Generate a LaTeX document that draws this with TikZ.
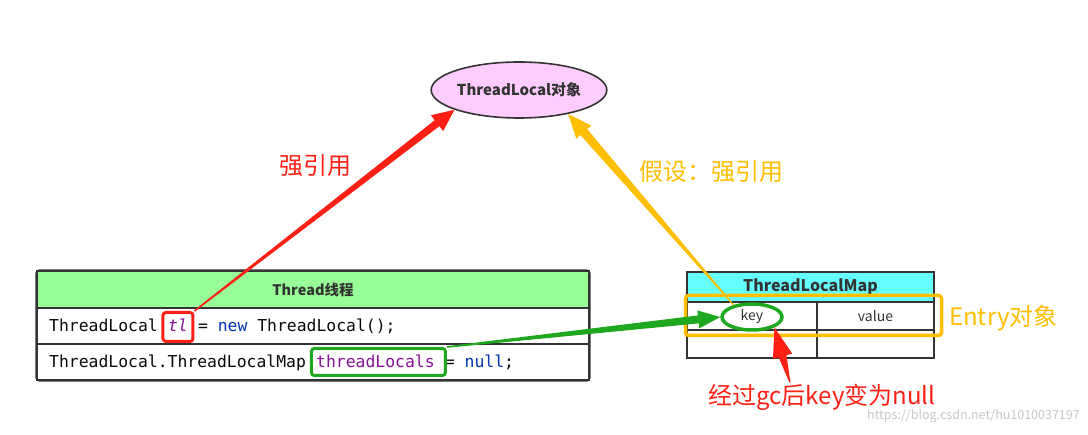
\documentclass[tikz,border=0pt]{standalone}
\usepackage{fontspec}
\setmainfont{Noto Sans CJK SC}
\setmonofont{DejaVu Sans Mono}
\usetikzlibrary{calc,shapes.geometric}
\definecolor{hgreen}{HTML}{99FF99}
\definecolor{hcyan}{HTML}{66FFFF}
\definecolor{pinkfill}{HTML}{FFCCFF}
\definecolor{dark}{HTML}{333333}
\definecolor{myred}{HTML}{FF2015}
\definecolor{myorange}{HTML}{FFBE00}
\definecolor{mygreen}{HTML}{1FA81F}
\definecolor{cpurple}{HTML}{871094}
\definecolor{cblue}{HTML}{0033B3}
\definecolor{ctext}{HTML}{080808}
\newcommand\taparrow[7]{% color, tail, tip, tail hw, shaft hw, head hw, head length
  \coordinate (hb) at ($(#3)!#7!(#2)$);
  \fill[#1] ($(#2)!#4!90:(#3)$) -- ($(hb)!#5!90:(#3)$) -- ($(hb)!#6!90:(#3)$) -- (#3)
    -- ($(hb)!#6!-90:(#3)$) -- ($(hb)!#5!-90:(#3)$) -- ($(#2)!#4!-90:(#3)$) -- cycle;
}
\tikzset{
  cell/.style={draw=dark, line width=1.6pt, inner sep=0pt, minimum height=#1},
  hdr/.style={font=\fontsize{14.5}{16}\selectfont\bfseries, text=dark},
  code/.style={font=\fontsize{16.4}{18}\ttfamily, text=ctext, inner sep=0pt, anchor=base west},
  lbl/.style={font=\fontsize{24}{26}\selectfont, inner sep=0pt},
  celltxt/.style={font=\fontsize{14}{16}\selectfont, text=dark},
}
\begin{document}
\begin{tikzpicture}[x=1pt,y=-1pt]
\useasboundingbox (0,0) rectangle (1088,435);
% ThreadLocal object
\node[ellipse, draw=dark, line width=1.6pt, fill=pinkfill, minimum width=149pt, minimum height=56pt, inner sep=0pt, hdr, font=\fontsize{15}{17}\selectfont\bfseries] (obj) at (519,90) {ThreadLocal对象};
% Thread table
\node[cell=37pt, fill=hgreen, minimum width=552pt, hdr] (thrh) at (313,289.5) {Thread线程};
\node[cell=36pt, minimum width=552pt] (thr1) at (313,326) {};
\node[cell=36pt, minimum width=552pt] (thr2) at (313,362) {};
\draw[dark, line width=1.6pt, rounded corners=3pt] (thrh.north west) rectangle (thr2.south east);
\node[code] (r1a) at (49,332) {ThreadLocal\hbox{\ }};
\node[code, text=cpurple, font=\fontsize{16.4}{18}\ttfamily\itshape] (tl) at (r1a.base east) {tl};
\node[code] (r1c) at (tl.base east) {\hbox{\ }= \textcolor{cblue}{new} ThreadLocal();};
\node[code] (r2a) at (49,368) {ThreadLocal.ThreadLocalMap\hbox{\ }};
\node[code, text=cpurple] (tls) at (r2a.base east) {threadLocals};
\node[code] (r2c) at (tls.base east) {\hbox{\ }= \textcolor{cblue}{null};};
\node[draw=myred, line width=3pt, rounded corners=3pt, minimum width=30pt, minimum height=29pt, inner sep=0pt] (tlb) at ($(tl |- thr1)+(0,1)$) {};
\node[draw=mygreen, line width=3pt, rounded corners=3pt, minimum width=134pt, minimum height=27pt, inner sep=0pt] (gbox) at ($(tls |- thr2)+(3,0)$) {};
% ThreadLocalMap table
\node[cell=30pt, fill=hcyan, minimum width=247pt, hdr, font=\fontsize{16}{18}\selectfont\bfseries] (maph) at (810.5,287) {ThreadLocalMap};
\node[cell=28pt, minimum width=130pt] (kcell) at (752,316) {};
\node[cell=28pt, minimum width=117pt, celltxt] (vcell) at (875.5,316) {value};
\node[cell=28pt, minimum width=130pt] (k2) at (752,344) {};
\node[cell=28pt, minimum width=117pt] (v2) at (875.5,344) {};
\node[draw=myorange, line width=3.5pt, rounded corners=3pt, minimum width=256pt, minimum height=40pt, inner sep=0pt] (entry) at (813.5,315.5) {};
\node[lbl, text=myorange, anchor=west] (entrylbl) at (949,318) {Entry对象};
% labels
\node[lbl, text=myred] (strong) at (315,166) {强引用};
\node[lbl, text=myorange, anchor=west] (assume) at (639,172) {假设：强引用};
\node[lbl, text=myred] (gclbl) at (822,397) {经过gc后key变为null};
\node[font=\fontsize{12.5}{14}\selectfont, text=black!22, anchor=east, inner sep=0pt] (wm) at (1080,416) {https://blog.csdn.net/hu1010037197};
% key ellipse
\node[ellipse, draw=mygreen, line width=3.5pt, minimum width=60pt, minimum height=26pt, inner sep=0pt, celltxt] (keyell) at (752,317) {key};
% arrows
\taparrow{myred}{tlb.north east}{obj.197}{0.8pt}{3.8pt}{10pt}{22pt}
\taparrow{myorange}{keyell.147}{obj.334}{0.6pt}{4.5pt}{10pt}{24pt}
\taparrow{mygreen}{gbox.north east}{keyell.west}{0.8pt}{4pt}{9pt}{22pt}
\coordinate (gctail) at ($(gclbl.north)+(-32,-1)$);
\taparrow{myred}{gctail}{keyell.south east}{0.5pt}{4pt}{10pt}{30pt}
\end{tikzpicture}
\end{document}
